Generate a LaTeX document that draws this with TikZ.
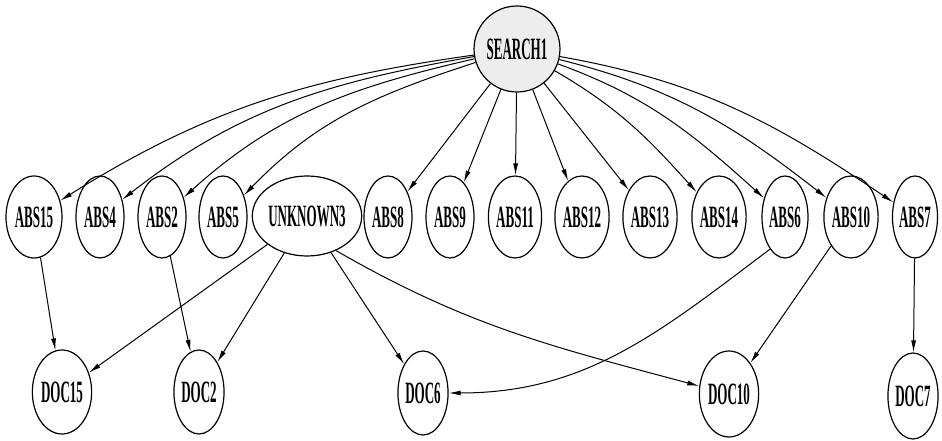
\documentclass[tikz,border=0pt]{standalone}
\usepackage{fontspec}
\setmainfont{Liberation Serif}
\usetikzlibrary{shapes.geometric,arrows.meta}
\newcommand{\narrowtxt}[1]{\scalebox{0.42}[1]{#1}}
\newcommand{\edge}[2]{\draw[link] (#1) -- (#2)}
\newcommand{\bent}[4]{\draw[link] (#1) to[out=#3,in=#4] (#2)}

\begin{document}
\begin{tikzpicture}[x=1pt,y=1pt,
	ent/.style={ellipse,draw,line width=1.2pt,inner sep=0pt,
		minimum width=48pt,minimum height=82pt,
		font=\fontsize{31}{31}\selectfont\bfseries},
	link/.style={-{Latex[length=12pt,width=5pt]},line width=1pt}]
	\useasboundingbox (0,0) rectangle (942,441);
	% top
	\node[ent,fill=black!7,minimum width=69pt,minimum height=86pt] (s1) at (517,392) {\narrowtxt{SEARCH1}};
	% middle row
	\node[ent,minimum width=56pt] (a15) at (34,224) {\narrowtxt{ABS15}};
	\node[ent] (a4) at (100,224) {\narrowtxt{ABS4}};
	\node[ent] (a2) at (162,224) {\narrowtxt{ABS2}};
	\node[ent] (a5) at (223,224) {\narrowtxt{ABS5}};
	\node[ent,minimum width=89pt,minimum height=80pt] (u3) at (307,225) {\narrowtxt{UNKNOWN3}};
	\node[ent] (a8) at (388,224) {\narrowtxt{ABS8}};
	\node[ent] (a9) at (450,224) {\narrowtxt{ABS9}};
	\node[ent,minimum width=50pt] (a11) at (515,224) {\narrowtxt{ABS11}};
	\node[ent,minimum width=50pt] (a12) at (582,224) {\narrowtxt{ABS12}};
	\node[ent,minimum width=50pt] (a13) at (650,224) {\narrowtxt{ABS13}};
	\node[ent,minimum width=52pt] (a14) at (719,224) {\narrowtxt{ABS14}};
	\node[ent,minimum width=46pt] (a6) at (785,224) {\narrowtxt{ABS6}};
	\node[ent,minimum width=52pt] (a10) at (851,224) {\narrowtxt{ABS10}};
	\node[ent,minimum width=44pt] (a7) at (915,224) {\narrowtxt{ABS7}};
	% bottom row
	\node[ent,minimum width=55pt,minimum height=84pt] (d15) at (62,49) {\narrowtxt{DOC15}};
	\node[ent,minimum width=46pt,minimum height=84pt] (d2) at (199,49) {\narrowtxt{DOC2}};
	\node[ent,minimum width=47pt,minimum height=84pt] (d6) at (423,48) {\narrowtxt{DOC6}};
	\node[ent,minimum width=55pt,minimum height=86pt] (d10) at (729,47) {\narrowtxt{DOC10}};
	\node[ent,minimum width=46pt,minimum height=86pt] (d7) at (913,45) {\narrowtxt{DOC7}};
	% search to abstracts
	\bent{s1}{a15}{188}{32};
	\bent{s1}{a4}{190}{38};
	\bent{s1}{a2}{193}{42};
	\bent{s1}{a5}{198}{46};
	\edge{s1}{a8};
	\edge{s1}{a9};
	\edge{s1}{a11};
	\edge{s1}{a12};
	\edge{s1}{a13};
	\bent{s1}{a14}{-30}{132};
	\bent{s1}{a6}{-20}{138};
	\bent{s1}{a10}{-14}{142};
	\bent{s1}{a7}{-10}{146};
	% abstracts to documents
	\edge{a15}{d15};
	\edge{a2}{d2};
	\edge{u3}{d15};
	\edge{u3}{d2};
	\edge{u3}{d6};
	\bent{u3.-50}{d10}{-30}{165};
	\bent{a6.245}{d6}{217}{0};
	\edge{a10}{d10};
	\edge{a7}{d7};
\end{tikzpicture}
\end{document}
